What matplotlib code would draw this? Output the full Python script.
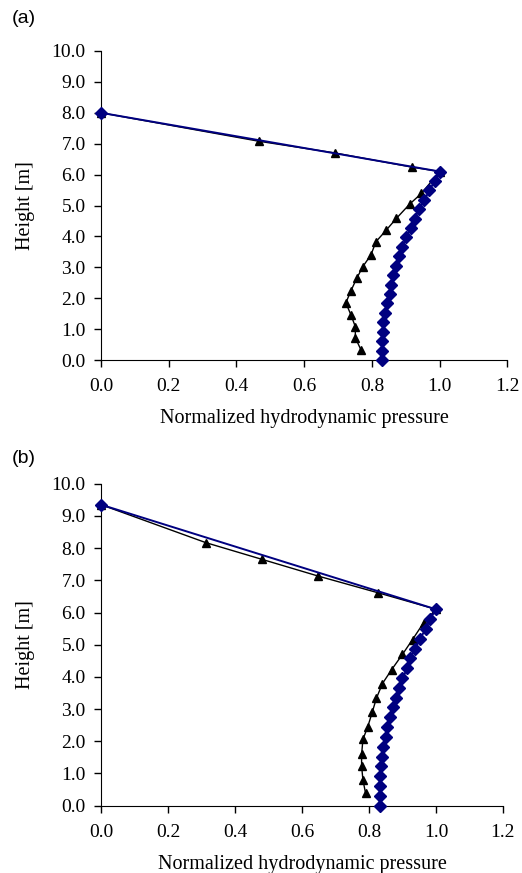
import matplotlib.pyplot as plt

# panel (a)
a_blue_h = [0.0, 0.305, 0.61, 0.915, 1.22, 1.525, 1.83, 2.135, 2.44, 2.745, 3.05,
            3.355, 3.66, 3.965, 4.27, 4.575, 4.88, 5.185, 5.49, 5.795, 6.1, 8.0]
a_blue_p = [0.830, 0.830, 0.830, 0.833, 0.834, 0.840, 0.845, 0.852, 0.857, 0.862, 0.872,
            0.881, 0.889, 0.901, 0.914, 0.926, 0.939, 0.955, 0.970, 0.985, 1.0, 0.0]
a_black_h = [0.32, 0.72, 1.08, 1.46, 1.85, 2.24, 2.64, 3.02, 3.40, 3.83, 4.20, 4.58,
             5.04, 5.39, 6.1, 6.24, 6.70, 7.08, 8.0]
a_black_p = [0.768, 0.751, 0.751, 0.738, 0.723, 0.738, 0.755, 0.773, 0.797, 0.812, 0.842, 0.872,
             0.911, 0.946, 1.0, 0.919, 0.691, 0.466, 0.0]

# panel (b)
b_blue_h = [0.0, 0.305, 0.61, 0.915, 1.22, 1.525, 1.83, 2.135, 2.44, 2.745, 3.05,
            3.355, 3.66, 3.965, 4.27, 4.575, 4.88, 5.185, 5.49, 5.795, 6.1, 9.35]
b_blue_p = [0.832, 0.832, 0.832, 0.832, 0.835, 0.838, 0.843, 0.850, 0.855, 0.863, 0.872,
            0.882, 0.890, 0.900, 0.915, 0.922, 0.938, 0.952, 0.970, 0.982, 1.0, 0.0]
b_black_h = [0.38, 0.80, 1.23, 1.59, 2.06, 2.44, 2.91, 3.33, 3.79, 4.23, 4.70, 5.16,
             5.68, 6.1, 6.61, 7.13, 7.65, 8.17, 9.35]
b_black_p = [0.790, 0.782, 0.778, 0.778, 0.782, 0.796, 0.810, 0.822, 0.840, 0.868, 0.900, 0.930,
             0.963, 1.0, 0.828, 0.649, 0.481, 0.313, 0.0]

x_ticks = [0.0, 0.2, 0.4, 0.6, 0.8, 1.0, 1.2]
y_ticks = [0.0, 1.0, 2.0, 3.0, 4.0, 5.0, 6.0, 7.0, 8.0, 9.0, 10.0]

serif = 'Liberation Serif'
navy = '#000080'

fig = plt.figure(figsize=(5.22, 8.73), dpi=100)
ax1 = fig.add_axes([0.1935, 0.5876, 0.7785, 0.354])
ax2 = fig.add_axes([0.1935, 0.0771, 0.770, 0.3688])

panels = [(ax1, a_black_p, a_black_h, a_blue_p, a_blue_h),
          (ax2, b_black_p, b_black_h, b_blue_p, b_blue_h)]

for ax, kp, kh, bp, bh in panels:
    ax.plot(kp, kh, color='black', linewidth=1.0, marker='^', markersize=5.5,
            markerfacecolor='black', markeredgecolor='black', zorder=3, clip_on=False)
    ax.plot(bp, bh, color=navy, linewidth=1.4, marker='D', markersize=6.3,
            markerfacecolor=navy, markeredgecolor=navy, zorder=4, clip_on=False)
    ax.set_xlim(0, 1.2)
    ax.set_ylim(0, 10)
    ax.set_xticks(x_ticks)
    ax.set_yticks(y_ticks)
    ax.set_xticklabels(['%.1f' % t for t in x_ticks], fontfamily=serif, fontsize=14)
    ax.set_yticklabels(['%.1f' % t for t in y_ticks], fontfamily=serif, fontsize=14)
    ax.spines['right'].set_color('none')
    ax.spines['top'].set_color('none')
    ax.tick_params(direction='out', length=5, width=1)
    ax.tick_params(axis='x', pad=8)
    ax.tick_params(axis='y', pad=6)
    ax.set_ylabel('Height [m]', fontfamily=serif, fontsize=14.5, labelpad=12)
    ax.set_xlabel('Normalized hydrodynamic pressure', fontfamily=serif, fontsize=14.5, labelpad=10)

fig.text(0.022, 0.979, '(a)', fontfamily='Liberation Sans', fontsize=14, va='center')
fig.text(0.022, 0.475, '(b)', fontfamily='Liberation Sans', fontsize=14, va='center')

plt.savefig('out.png', dpi=100)
